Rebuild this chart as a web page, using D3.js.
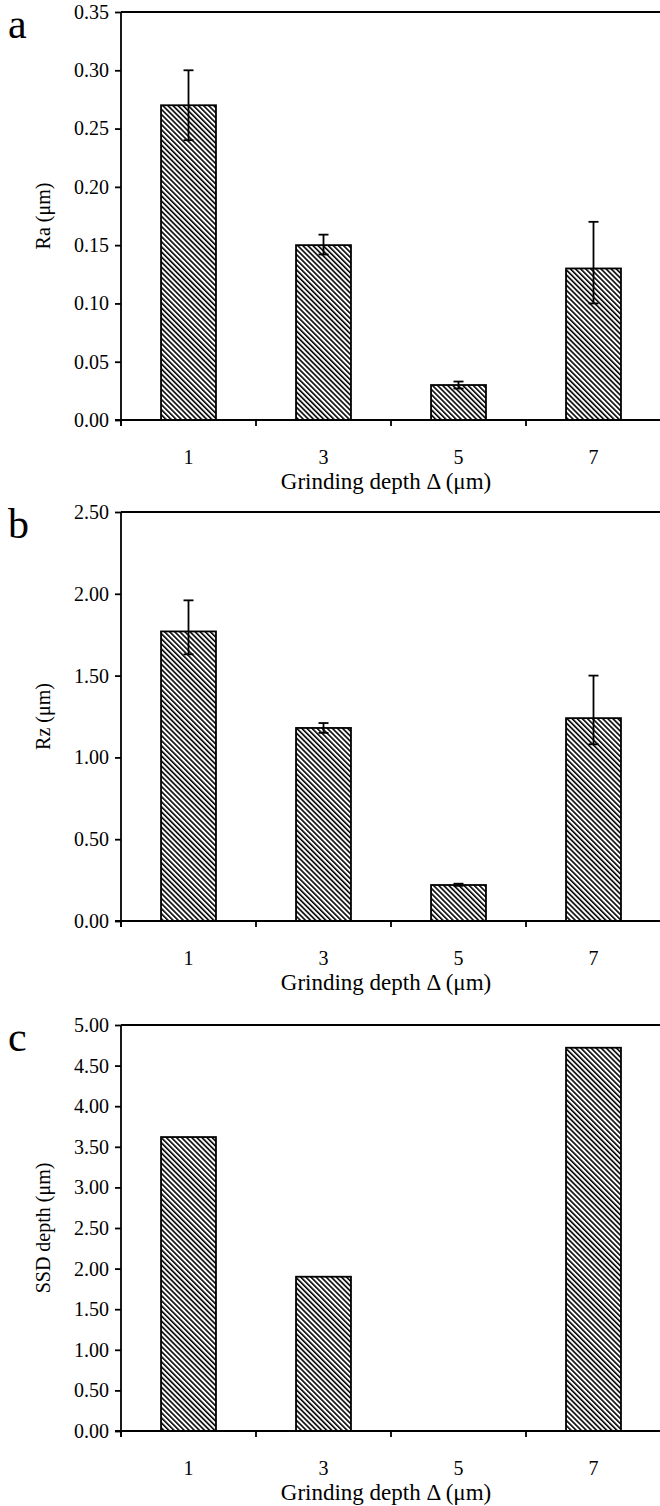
<!DOCTYPE html>
<html><head><meta charset="utf-8">
<script src="https://cdn.jsdelivr.net/npm/d3@7"></script>
<style>
body{margin:0;background:#fff}
svg text{font-family:"Liberation Serif","Tinos","Times New Roman",Times,"DejaVu Serif",serif !important;fill:#000}
</style>
</head><body>
<svg id="chart" width="660" height="1506"></svg>
<script>
// ---- data ----
const categories = ["1", "3", "5", "7"];
const xTitle = "Grinding depth \u0394 (\u03bcm)";

const raValues = [0.27, 0.15, 0.03, 0.13];
const raLow    = [0.24, 0.142, 0.027, 0.10];
const raHigh   = [0.30, 0.159, 0.033, 0.17];
const raTicks  = [0, 0.05, 0.10, 0.15, 0.20, 0.25, 0.30, 0.35];

const rzValues = [1.77, 1.18, 0.22, 1.24];
const rzLow    = [1.63, 1.15, 0.215, 1.08];
const rzHigh   = [1.96, 1.21, 0.228, 1.50];
const rzTicks  = [0, 0.5, 1.0, 1.5, 2.0, 2.5];

const ssdValues = [3.62, 1.90, 0, 4.72];
const ssdTicks  = [0, 0.5, 1.0, 1.5, 2.0, 2.5, 3.0, 3.5, 4.0, 4.5, 5.0];

const panels = [
  {letter: "a", yTitle: "Ra (\u03bcm)", values: raValues, low: raLow, high: raHigh, ticks: raTicks, top: 12, bottom: 420},
  {letter: "b", yTitle: "Rz (\u03bcm)", values: rzValues, low: rzLow, high: rzHigh, ticks: rzTicks, top: 512, bottom: 921},
  {letter: "c", yTitle: "SSD depth (\u03bcm)", values: ssdValues, low: null, high: null, ticks: ssdTicks, top: 1025, bottom: 1431}
];

// ---- drawing ----
const svg = d3.select("#chart");
const left = 121, right = 661;
const FONT = '"Liberation Serif","Tinos","Times New Roman",Times,"DejaVu Serif",serif';
const SW = 1.8;

const defs = svg.append("defs");
const pat = defs.append("pattern")
  .attr("id", "hatch")
  .attr("patternUnits", "userSpaceOnUse")
  .attr("width", 3.6).attr("height", 10)
  .attr("patternTransform", "rotate(-45)");
pat.append("rect").attr("width", 3.6).attr("height", 10).attr("fill", "#fff");
pat.append("line").attr("x1", 0.8).attr("x2", 0.8).attr("y1", 0).attr("y2", 10)
  .attr("stroke", "#000").attr("stroke-width", 1.6);

const x = d3.scaleBand().domain(categories).range([left, right])
  .paddingInner(0.593).paddingOuter(0.2965);

panels.forEach(p => {
  const ymax = p.ticks[p.ticks.length - 1];
  const y = d3.scaleLinear().domain([0, ymax]).range([p.bottom, p.top]);
  const g = svg.append("g").attr("font-family", FONT);

  // bars
  g.selectAll("rect.bar").data(p.values).join("rect")
    .attr("class", "bar")
    .attr("x", (d, i) => x(categories[i]))
    .attr("width", x.bandwidth())
    .attr("y", d => y(d))
    .attr("height", d => y(0) - y(d))
    .attr("fill", "url(#hatch)")
    .attr("stroke", d => d > 0 ? "#000" : "none")
    .attr("stroke-width", SW);

  // error bars
  if (p.low) {
    const eb = g.selectAll("g.err").data(p.values.map((v, i) => ({i, lo: p.low[i], hi: p.high[i]})))
      .join("g").attr("class", "err")
      .attr("transform", d => `translate(${x(categories[d.i]) + x.bandwidth() / 2},0)`);
    eb.append("line").attr("y1", d => y(d.lo)).attr("y2", d => y(d.hi))
      .attr("stroke", "#000").attr("stroke-width", SW);
    eb.append("line").attr("x1", -5).attr("x2", 5).attr("y1", d => y(d.hi)).attr("y2", d => y(d.hi))
      .attr("stroke", "#000").attr("stroke-width", SW);
    eb.append("line").attr("x1", -5).attr("x2", 5).attr("y1", d => y(d.lo)).attr("y2", d => y(d.lo))
      .attr("stroke", "#000").attr("stroke-width", SW);
  }

  // top border
  g.append("line").attr("x1", left).attr("x2", right).attr("y1", p.top).attr("y2", p.top)
    .attr("stroke", "#000").attr("stroke-width", SW);

  // y axis
  const yAxis = d3.axisLeft(y).tickValues(p.ticks).tickFormat(d3.format(".2f")).tickSize(6).tickPadding(6);
  const ya = g.append("g").attr("transform", `translate(${left},0)`).call(yAxis)
    .attr("font-family", FONT).attr("font-size", 20);
  ya.select(".domain").remove();
  ya.selectAll(".tick line").attr("stroke", "#000").attr("stroke-width", SW);
  ya.selectAll(".tick text").attr("fill", "#000");
  g.append("line").attr("x1", left).attr("x2", left).attr("y1", p.top).attr("y2", p.bottom + 6)
    .attr("stroke", "#000").attr("stroke-width", SW);

  // x axis
  const xa = g.append("g").attr("transform", `translate(0,${p.bottom})`)
    .call(d3.axisBottom(x).tickSize(0).tickPadding(30))
    .attr("font-family", FONT).attr("font-size", 20);
  xa.select(".domain").remove();
  xa.selectAll(".tick text").attr("fill", "#000");
  g.append("line").attr("x1", left - 6).attr("x2", right).attr("y1", p.bottom).attr("y2", p.bottom)
    .attr("stroke", "#000").attr("stroke-width", SW);
  const bounds = d3.range(categories.length + 1).map(i => left + i * x.step());
  g.selectAll("line.xt").data(bounds).join("line").attr("class", "xt")
    .attr("x1", d => d).attr("x2", d => d).attr("y1", p.bottom).attr("y2", p.bottom + 6)
    .attr("stroke", "#000").attr("stroke-width", SW);

  // titles
  g.append("text").attr("x", (left + right) / 2 - 5).attr("y", p.bottom + 69)
    .attr("text-anchor", "middle").attr("font-size", 23).text(xTitle);
  g.append("text").attr("transform", `translate(50,${(p.top + p.bottom) / 2}) rotate(-90)`)
    .attr("text-anchor", "middle").attr("font-size", 20).text(p.yTitle);
  g.append("text").attr("x", 8).attr("y", p.top + 26)
    .attr("font-size", 42).text(p.letter);
});
</script>
</body></html>
